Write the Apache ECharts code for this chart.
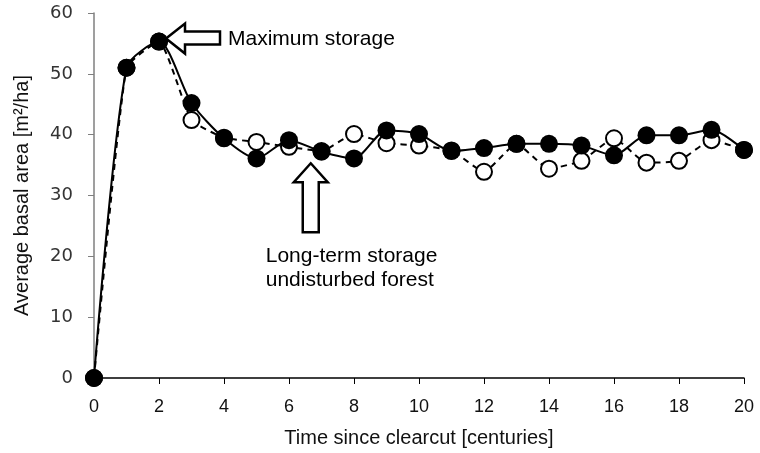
<!DOCTYPE html>
<html lang="en">
  <head>
    <meta charset="UTF-8" />
    <title>Basal area</title>
    <script src="https://cdn.jsdelivr.net/npm/echarts@6/dist/echarts.min.js"></script>
  </head>
  <style>
    body,
    html {
      margin: 0;
      height: 100%;
      background: #fff;
    }
  </style>
  <body>
    <div id="chart" style="width:760px;height:453px"></div>
  </body>
  <script>
    // centuries since clearcut
    var years = [0, 1, 2, 3, 4, 5, 6, 7, 8, 9, 10, 11, 12, 13, 14, 15, 16, 17, 18, 19, 20];
    // filled circles, solid line
    var filled = [0, 51, 55.3, 45.2, 39.4, 36.1, 39.1, 37.2, 36.1, 40.7, 40.1, 37.3, 37.8, 38.5, 38.5, 38.2, 36.6, 39.9, 39.9, 40.8, 37.5];
    // open circles, dashed line
    var open = [0, 51, 55.3, 42.4, 39.5, 38.8, 38.0, 37.3, 40.1, 38.6, 38.2, 37.4, 33.9, 38.5, 34.4, 35.7, 39.4, 35.4, 35.7, 39.1, 37.5];

    var font = "Liberation Sans, Arial, sans-serif";

    function pairs(vals) {
      return years.map(function(x, i) {
        return [x, vals[i]];
      });
    }

    var option = {
      animation: false,
      grid: { left: 94, right: 16, top: 13, bottom: 75 },
      xAxis: {
        type: "value",
        min: 0,
        max: 20,
        interval: 2,
        name: "Time since clearcut [centuries]",
        nameLocation: "middle",
        nameGap: 50,
        nameTextStyle: { fontFamily: font, fontSize: 20, color: "#111" },
        axisLine: { lineStyle: { color: "#000", width: 1.5 } },
        axisTick: { show: true, length: 6, lineStyle: { color: "#000" } },
        axisLabel: {
          margin: 20,
          fontFamily: font,
          fontSize: 18,
          color: "#111"
        },
        splitLine: { show: false }
      },
      yAxis: {
        type: "value",
        min: 0,
        max: 60,
        interval: 10,
        offset: 4,
        name: "Average basal area [m²/ha]",
        nameLocation: "middle",
        nameGap: 58,
        nameTextStyle: { fontFamily: font, fontSize: 20, color: "#111" },
        axisLine: { show: true, lineStyle: { color: "#7f7f7f", width: 1.5 } },
        axisTick: { show: true, length: 6, lineStyle: { color: "#7f7f7f" } },
        axisLabel: {
          margin: 17,
          fontFamily: "DejaVu Sans, Verdana, sans-serif",
          fontSize: 18,
          color: "#333"
        },
        splitLine: { show: false }
      },
      series: [
        {
          name: "open",
          type: "line",
          data: pairs(open),
          smooth: 0.15,
          symbol: "circle",
          symbolSize: 16,
          lineStyle: { color: "#000", width: 2, type: [6, 5] },
          itemStyle: { color: "#fff", borderColor: "#000", borderWidth: 2 },
          z: 2
        },
        {
          name: "filled",
          type: "line",
          data: pairs(filled),
          smooth: 0.25,
          symbol: "circle",
          symbolSize: 18,
          lineStyle: { color: "#000", width: 2 },
          itemStyle: { color: "#000" },
          z: 3
        }
      ]
    };

    var chart = echarts.init(document.getElementById("chart"));
    chart.setOption(option);

    // annotation arrows placed from data coordinates
    function px(x, y) {
      return chart.convertToPixel({ gridIndex: 0 }, [x, y]);
    }
    var tip = px(2, 55.3);
    var tx = tip[0] + 7,
      ty = tip[1] - 3;
    var leftArrow = [
      [tx, ty],
      [tx + 19, ty - 15],
      [tx + 19, ty - 7],
      [tx + 54, ty - 7],
      [tx + 54, ty + 6],
      [tx + 19, ty + 6],
      [tx + 19, ty + 15]
    ];
    var up = px(6.7, 35.3);
    var ux = up[0] - 1,
      uy = up[1];
    var upArrow = [
      [ux, uy],
      [ux + 17, uy + 19],
      [ux + 8, uy + 19],
      [ux + 8, uy + 69],
      [ux - 8, uy + 69],
      [ux - 8, uy + 19],
      [ux - 17, uy + 19]
    ];
    chart.setOption({
      graphic: [
        {
          type: "polygon",
          shape: { points: leftArrow },
          style: { fill: "#fff", stroke: "#000", lineWidth: 2.5 },
          z: 10
        },
        {
          type: "text",
          x: tx + 62,
          y: ty + 1,
          style: {
            text: "Maximum storage",
            fontFamily: font,
            fontSize: 21,
            fill: "#000",
            verticalAlign: "middle"
          },
          z: 10
        },
        {
          type: "polygon",
          shape: { points: upArrow },
          style: { fill: "#fff", stroke: "#000", lineWidth: 2.5 },
          z: 10
        },
        {
          type: "text",
          x: ux - 45,
          y: uy + 81,
          style: {
            text: "Long-term storage\nundisturbed forest",
            fontFamily: font,
            fontSize: 21,
            lineHeight: 24,
            fill: "#000"
          },
          z: 10
        }
      ]
    });
  </script>
</html>
